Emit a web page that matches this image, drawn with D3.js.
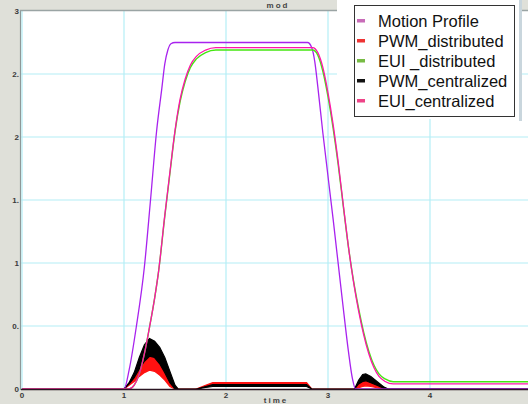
<!DOCTYPE html>
<html><head><meta charset="utf-8">
<script src="https://cdn.jsdelivr.net/npm/d3@7"></script>
<style>
html,body{margin:0;padding:0;background:#dfe0d9;}
svg{display:block;font-family:"Liberation Sans",Arial,sans-serif;}
</style></head>
<body><svg id="c" width="528" height="404"></svg>
<script>
// ---------- data ----------
const xTicks = [0, 1, 2, 3, 4];
const xTickLabels = ["0", "1", "2", "3", "4"];
const yTicks = [0, 0.5, 1, 1.5, 2, 2.5, 3];
const yTickLabels = ["0", "0.", "1", "1.", "2", "2.", "3"];
const seriesNames = ["Motion Profile", "PWM_distributed", "EUI _distributed", "PWM_centralized", "EUI_centralized"];

// Motion Profile
const motionT = [0, 1.00, 1.05, 1.12, 1.20, 1.26, 1.32, 1.37, 1.40, 1.43, 1.46, 1.50, 2.80, 2.84, 2.87, 2.90, 2.95, 3.05, 3.14, 3.20, 3.24, 3.27, 5.0];
const motionV = [0, 0, 0.15, 0.49, 0.97, 1.50, 2.05, 2.38, 2.58, 2.69, 2.74, 2.75, 2.75, 2.71, 2.60, 2.40, 2.03, 1.35, 0.71, 0.30, 0.08, 0, 0];

// EUI centralized / distributed
const euiT = [0, 1.05, 1.10, 1.15, 1.20, 1.25, 1.30, 1.34, 1.40, 1.45, 1.50, 1.55, 1.60, 1.65, 1.71, 1.80, 1.90, 2.85, 2.90, 2.95, 3.00, 3.05, 3.10, 3.15, 3.20, 3.25, 3.30, 3.35, 3.40, 3.45, 3.50, 3.56, 3.64, 5.0];
const euiCentralV = [0, 0, 0.03, 0.12, 0.28, 0.49, 0.72, 0.94, 1.38, 1.72, 2.05, 2.30, 2.46, 2.57, 2.64, 2.69, 2.71, 2.71, 2.67, 2.55, 2.35, 2.10, 1.80, 1.46, 1.13, 0.85, 0.62, 0.43, 0.28, 0.17, 0.10, 0.06, 0.04, 0.04];
const euiDistribV = [0, 0, 0.03, 0.12, 0.28, 0.49, 0.72, 0.94, 1.37, 1.71, 2.04, 2.28, 2.44, 2.55, 2.62, 2.67, 2.69, 2.69, 2.65, 2.52, 2.32, 2.07, 1.78, 1.45, 1.13, 0.86, 0.64, 0.45, 0.30, 0.19, 0.12, 0.08, 0.058, 0.058];

// PWM series (high-frequency switching, drawn as upper / lower envelopes)
const pwmT      = [0, 1.00, 1.05, 1.10, 1.15, 1.20, 1.25, 1.30, 1.35, 1.40, 1.45, 1.50, 1.53, 1.70, 1.72, 1.80, 1.87, 2.79, 2.84, 3.26, 3.30, 3.34, 3.37, 3.42, 3.48, 3.55, 3.59, 5.0];
const pwmCentUp = [0, 0, 0.05, 0.13, 0.25, 0.35, 0.40, 0.38, 0.33, 0.25, 0.14, 0.03, 0, 0, 0.002, 0.020, 0.035, 0.035, 0, 0, 0.07, 0.115, 0.12, 0.10, 0.06, 0.015, 0, 0];
const pwmCentLo = [0, 0, 0.04, 0.09, 0.16, 0.22, 0.26, 0.25, 0.20, 0.13, 0.05, 0, 0, 0, 0, 0.012, 0.020, 0.020, 0, 0, 0.04, 0.060, 0.065, 0.05, 0.03, 0.005, 0, 0];
const pwmDistUp = [0, 0, 0.04, 0.10, 0.19, 0.28, 0.33, 0.31, 0.27, 0.20, 0.11, 0.02, 0, 0, 0.004, 0.030, 0.050, 0.050, 0, 0, 0.045, 0.075, 0.080, 0.065, 0.04, 0.01, 0, 0];
const pwmDistLo = [0, 0, 0.03, 0.06, 0.10, 0.13, 0.15, 0.14, 0.11, 0.07, 0.02, 0, 0, 0, 0, 0.020, 0.042, 0.042, 0, 0, 0.01, 0.020, 0.025, 0.02, 0.01, 0, 0, 0];

// ---------- drawing ----------
const W = 528, H = 404;
const svg = d3.select("#c");
const x = d3.scaleLinear().domain([0, 5]).range([22, 532]);
const y = d3.scaleLinear().domain([0, 3]).range([389, 11]);

const colors = {
  motion: "#a822ee", pwmDist: "#ff1111", euiDist: "#44e611", pwmCent: "#000000", euiCent: "#ff14aa"
};
const swatch = ["#c86cb8", "#ee3333", "#77bb44", "#111111", "#ee4488"];

// backgrounds
svg.append("rect").attr("x", 0).attr("y", 0).attr("width", W).attr("height", H).attr("fill", "#dfe0d9");
svg.append("rect").attr("x", 21).attr("y", 11).attr("width", W - 21).attr("height", 378).attr("fill", "#ffffff");

// grid
const gridC = "#b4eef6";
svg.append("g").selectAll("line").data(xTicks).join("line")
  .attr("x1", d => x(d)).attr("x2", d => x(d)).attr("y1", 11).attr("y2", 389)
  .attr("stroke", gridC).attr("stroke-width", 1.2);
svg.append("g").selectAll("line").data(yTicks.filter(v => v > 0 && v < 3)).join("line")
  .attr("x1", 21).attr("x2", W).attr("y1", d => y(d)).attr("y2", d => y(d))
  .attr("stroke", gridC).attr("stroke-width", 1.2);

// frame lines
svg.append("line").attr("x1", 20.5).attr("x2", 20.5).attr("y1", 10).attr("y2", 390).attr("stroke", "#8f9898").attr("stroke-width", 1.2);
svg.append("line").attr("x1", 20).attr("x2", W).attr("y1", 10.5).attr("y2", 10.5).attr("stroke", "#9aa4a4").attr("stroke-width", 1.4);

// PWM envelopes
function band(t, up, lo) {
  return d3.area().x((d, i) => x(t[i])).y0((d, i) => y(lo[i])).y1((d, i) => y(up[i]))(t);
}
svg.append("path").attr("d", band(pwmT, pwmDistUp, pwmDistLo)).attr("fill", colors.pwmDist)
  .attr("stroke", colors.pwmDist).attr("stroke-width", 1.2);
svg.append("path").attr("d", band(pwmT, pwmCentUp, pwmCentLo)).attr("fill", colors.pwmCent)
  .attr("stroke", colors.pwmCent).attr("stroke-width", 1.2);

// lines
function line(t, v) {
  return d3.line().x((d, i) => x(t[i])).y((d, i) => y(v[i])).curve(d3.curveMonotoneX)(t);
}
svg.append("path").attr("d", line(motionT, motionV)).attr("fill", "none").attr("stroke", colors.motion).attr("stroke-width", 1.3);
svg.append("path").attr("d", line(euiT, euiDistribV)).attr("fill", "none").attr("stroke", colors.euiDist).attr("stroke-width", 1.4);
svg.append("path").attr("d", line(euiT, euiCentralV)).attr("fill", "none").attr("stroke", colors.euiCent).attr("stroke-width", 1.3);

// bottom axis line and gray band
svg.append("rect").attr("x", 0).attr("y", 390).attr("width", W).attr("height", 14).attr("fill", "#dfe0d9");
svg.append("line").attr("x1", 21).attr("x2", W).attr("y1", 389.5).attr("y2", 389.5).attr("stroke", "#2a1422").attr("stroke-width", 1.6);

// tick labels
svg.append("g").selectAll("text").data(yTicks).join("text")
  .attr("x", 19).attr("y", d => y(d) + 3).attr("text-anchor", "end")
  .attr("font-size", 8).attr("font-weight", "bold").attr("fill", "#3a3a3a")
  .text((d, i) => yTickLabels[i]);
svg.append("g").selectAll("text").data(xTicks).join("text")
  .attr("x", d => x(d)).attr("y", 398).attr("text-anchor", "middle")
  .attr("font-size", 8).attr("font-weight", "bold").attr("fill", "#3a3a3a")
  .text((d, i) => xTickLabels[i]);
svg.append("text").attr("x", 276).attr("y", 403).attr("text-anchor", "middle")
  .attr("font-size", 8).attr("font-weight", "bold").attr("letter-spacing", 2).attr("fill", "#444").text("time");
svg.append("text").attr("x", 278).attr("y", 8).attr("text-anchor", "middle")
  .attr("font-size", 8).attr("font-weight", "bold").attr("letter-spacing", 2).attr("fill", "#444").text("mod");

// legend
svg.append("rect").attr("x", 337).attr("y", 0).attr("width", 182).attr("height", 119).attr("fill", "#ffffff");
svg.append("rect").attr("x", 519).attr("y", 0).attr("width", 3).attr("height", 121).attr("fill", "#c9d6dd");
svg.append("rect").attr("x", 354.5).attr("y", 5.5).attr("width", 160).attr("height", 111)
  .attr("fill", "#ffffff").attr("stroke", "#333").attr("stroke-width", 1);
const lg = svg.append("g").selectAll("g").data(seriesNames).join("g")
  .attr("transform", (d, i) => `translate(0,${20.5 + i * 20})`);
lg.append("rect").attr("x", 357).attr("y", -1.5).attr("width", 8).attr("height", 3.5).attr("fill", (d, i) => swatch[i]);
lg.append("text").attr("x", 378).attr("y", 6).attr("font-size", 16.5).attr("fill", "#111").text(d => d);
</script></body></html>
